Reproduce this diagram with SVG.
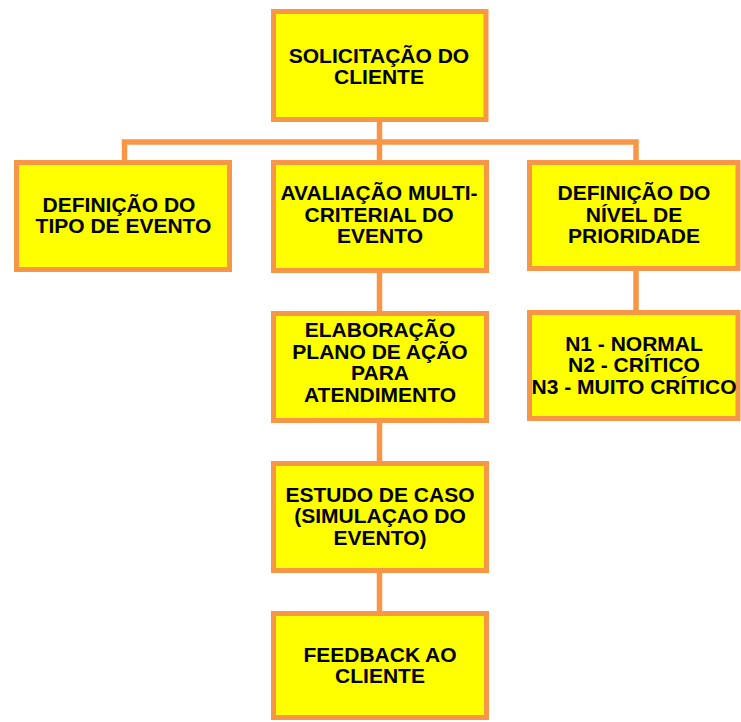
<svg xmlns="http://www.w3.org/2000/svg" width="741" height="722" viewBox="0 0 741 722">
  <style>
    .box { fill: #FFFF00; stroke: #F79646; stroke-width: 5; }
    .link { fill: none; stroke: #F79646; stroke-width: 5.5; }
    text { font-family: "Liberation Sans", Arial, sans-serif; font-weight: bold; font-size: 21px; fill: #000; text-anchor: middle; }
  </style>
  <rect width="741" height="722" fill="#FFFFFF"/>

  <g id="connectors">
    <line class="link" x1="379.5" y1="122" x2="379.5" y2="160"/>
    <polyline class="link" points="124.5,162 124.5,142 636,142 636,161"/>
    <line class="link" x1="379.5" y1="272" x2="379.5" y2="312"/>
    <line class="link" x1="379.5" y1="422" x2="379.5" y2="462"/>
    <line class="link" x1="379.5" y1="572" x2="379.5" y2="612"/>
    <line class="link" x1="636" y1="270" x2="636" y2="311"/>
  </g>

  <g id="solicitacao">
    <rect class="box" x="273.5" y="11.5" width="212.5" height="108"/>
    <text><tspan x="379" y="63">SOLICITAÇÃO DO</tspan><tspan x="379" y="84">CLIENTE</tspan></text>
  </g>

  <g id="tipo-evento">
    <rect class="box" x="16.5" y="162.5" width="213" height="107"/>
    <text><tspan x="119" y="212">DEFINIÇÃO DO</tspan><tspan x="123.5" y="233">TIPO DE EVENTO</tspan></text>
  </g>

  <g id="avaliacao">
    <rect class="box" x="273.5" y="162.5" width="213" height="108"/>
    <text><tspan x="379" y="200">AVALIAÇÃO MULTI-</tspan><tspan x="379" y="221.5">CRITERIAL DO</tspan><tspan x="380" y="243">EVENTO</tspan></text>
  </g>

  <g id="prioridade">
    <rect class="box" x="529.5" y="162.5" width="208.5" height="106"/>
    <text><tspan x="634" y="200">DEFINIÇÃO DO</tspan><tspan x="634" y="221.5">NÍVEL DE</tspan><tspan x="634" y="243">PRIORIDADE</tspan></text>
  </g>

  <g id="plano-acao">
    <rect class="box" x="273.5" y="313.5" width="213" height="107"/>
    <text><tspan x="380" y="337">ELABORAÇÃO</tspan><tspan x="380" y="358.5">PLANO DE AÇÃO</tspan><tspan x="380" y="380">PARA</tspan><tspan x="380" y="402">ATENDIMENTO</tspan></text>
  </g>

  <g id="niveis">
    <rect class="box" x="529.5" y="312.5" width="208.5" height="106"/>
    <text><tspan x="634" y="350.5">N1 - NORMAL</tspan><tspan x="634" y="372">N2 - CRÍTICO</tspan><tspan x="634" y="393.5">N3 - MUITO CRÍTICO</tspan></text>
  </g>

  <g id="estudo-caso">
    <rect class="box" x="273.5" y="463.5" width="213" height="107"/>
    <text><tspan x="380" y="501.5">ESTUDO DE CASO</tspan><tspan x="380" y="523">(SIMULAÇAO DO</tspan><tspan x="380" y="545">EVENTO)</tspan></text>
  </g>

  <g id="feedback">
    <rect class="box" x="273.5" y="613.5" width="213" height="104"/>
    <text><tspan x="380" y="661.5">FEEDBACK AO</tspan><tspan x="380" y="683">CLIENTE</tspan></text>
  </g>
</svg>
